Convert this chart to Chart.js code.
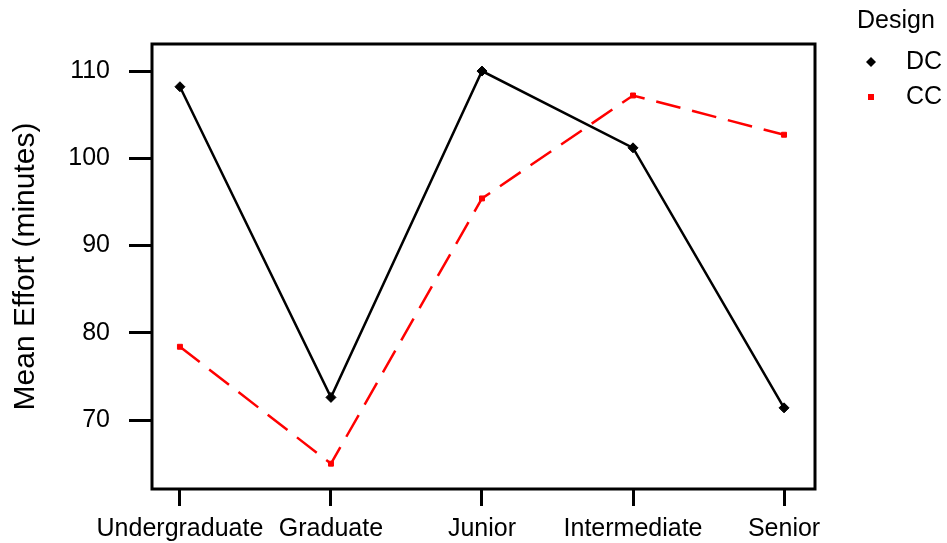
<!DOCTYPE html>
<html>
<head>
<meta charset="utf-8">
<script src="https://cdn.jsdelivr.net/npm/chart.js@4"></script>
<style>
  html, body { margin: 0; padding: 0; background: #fff; }
  #wrap { width: 947px; height: 543px; }
</style>
</head>
<body>
<div id="wrap"><canvas id="chart" width="947" height="543"></canvas></div>
<script>
const categories = ['Undergraduate', 'Graduate', 'Junior', 'Intermediate', 'Senior'];
const dcValues = [108.2, 72.6, 110.0, 101.2, 71.4];
const ccValues = [78.4, 65.0, 95.4, 107.2, 102.7];
const yTicks = [70, 80, 90, 100, 110];
const legendTitle = 'Design';

const FONT = '"Liberation Sans", Arial, sans-serif';

// frame around plot area + legend on the right
const framePlugin = {
  id: 'frame',
  afterDraw(chart) {
    const { ctx, chartArea: a } = chart;
    ctx.save();
    ctx.strokeStyle = '#000';
    ctx.lineWidth = 3;
    ctx.strokeRect(a.left, a.top, a.right - a.left, a.bottom - a.top);

    ctx.fillStyle = '#000';
    ctx.font = '25px ' + FONT;
    ctx.textBaseline = 'middle';
    ctx.textAlign = 'left';
    ctx.fillText(legendTitle, 857, 21);
    chart.data.datasets.forEach((ds, i) => {
      const y = 62 + i * 35;
      ctx.fillStyle = ds.pointBackgroundColor;
      if (ds.pointStyle === 'rectRot') {
        ctx.beginPath();
        ctx.moveTo(871, y - 5);
        ctx.lineTo(876, y);
        ctx.lineTo(871, y + 5);
        ctx.lineTo(866, y);
        ctx.closePath();
        ctx.fill();
      } else {
        ctx.fillRect(868, y - 3, 6, 6);
      }
      ctx.fillStyle = '#000';
      ctx.fillText(ds.label, 906, y);
    });
    ctx.restore();
  }
};

new Chart(document.getElementById('chart'), {
  type: 'line',
  data: {
    datasets: [
      {
        label: 'DC',
        data: dcValues.map((v, i) => ({ x: i, y: v })),
        borderColor: '#000',
        borderWidth: 2.5,
        pointStyle: 'rectRot',
        pointRadius: 5,
        pointBackgroundColor: '#000',
        pointBorderColor: '#000',
        pointBorderWidth: 1,
        tension: 0
      },
      {
        label: 'CC',
        data: ccValues.map((v, i) => ({ x: i, y: v })),
        borderColor: '#ff0000',
        borderWidth: 2.5,
        borderDash: [25, 12],
        pointStyle: 'rect',
        pointRadius: 3.5,
        pointBackgroundColor: '#ff0000',
        pointBorderColor: '#ff0000',
        pointBorderWidth: 1,
        tension: 0
      }
    ]
  },
  options: {
    responsive: false,
    animation: false,
    layout: { padding: { top: 44, right: 132, left: 0, bottom: 0 } },
    plugins: { legend: { display: false }, tooltip: { enabled: false } },
    scales: {
      x: {
        type: 'linear',
        min: -0.185,
        max: 4.205,
        afterBuildTicks: (axis) => { axis.ticks = categories.map((c, i) => ({ value: i })); },
        afterFit: (axis) => { axis.height = 54; },
        grid: { drawOnChartArea: false, color: '#000', lineWidth: 3, tickLength: 17, tickColor: '#000' },
        border: { display: false },
        ticks: {
          color: '#000',
          font: { family: FONT, size: 25 },
          padding: 8,
          maxRotation: 0,
          autoSkip: false,
          callback: (v) => categories[v]
        }
      },
      y: {
        min: 62.1,
        max: 113.1,
        afterBuildTicks: (axis) => { axis.ticks = yTicks.map((v) => ({ value: v })); },
        afterFit: (axis) => { axis.width = 152; },
        grid: { drawOnChartArea: false, color: '#000', lineWidth: 3, tickLength: 23, tickColor: '#000' },
        border: { display: false },
        ticks: {
          color: '#000',
          font: { family: FONT, size: 25 },
          padding: 19,
          callback: (v) => v
        },
        title: {
          display: true,
          text: 'Mean Effort (minutes)',
          color: '#000',
          font: { family: FONT, size: 30 },
          padding: { top: 8, bottom: 0 }
        }
      }
    }
  },
  plugins: [framePlugin]
});
</script>
</body>
</html>
